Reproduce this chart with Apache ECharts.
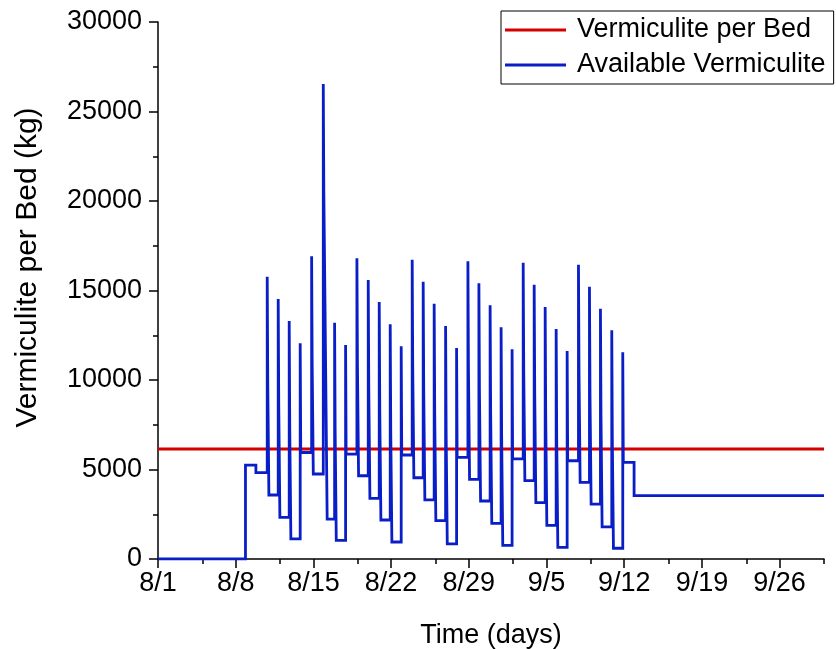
<!DOCTYPE html>
<html>
<head>
<meta charset="utf-8">
<script src="https://cdn.jsdelivr.net/npm/echarts@6/dist/echarts.min.js"></script>
<style>
html,body{margin:0;padding:0;background:#fff;}
#chart{width:836px;height:649px;}
</style>
</head>
<body>
<div id="chart"></div>
<script>
// ---- data (days counted from 8/1) ----
const xTickDays = [0, 7, 14, 21, 28, 35, 42, 49, 56];
const xTickLabels = ['8/1', '8/8', '8/15', '8/22', '8/29', '9/5', '9/12', '9/19', '9/26'];
const xMinorDays = [4, 11, 18, 25, 32, 39, 46, 53, 60];
const bedKg = 6150;          // vermiculite per bed
const bedLineDays = [0, 60];

// steps before the first delivery spike
const preDay = [0, 7.88, 8.82];
const preKg = [0, 5250, 4820];

// delivery spikes
const spikeDay = [9.84, 10.83, 11.82, 12.81, 13.84, 14.89, 15.91, 16.90, 17.92, 18.94,
  19.93, 20.92, 21.91, 22.90, 23.89, 24.88, 25.91, 26.90, 27.92, 28.91,
  29.92, 30.91, 31.90, 32.90, 33.89, 34.88, 35.87, 36.86, 37.88, 38.87,
  39.86, 40.88, 41.87];
const peakKg = [15770, 14525, 13296, 12050, 16910, 26540, 13200, 11955, 16800, 15590,
  14360, 13110, 11880, 16720, 15490, 14260, 13020, 11790, 16630, 15400,
  14170, 12940, 11715, 16550, 15320, 14080, 12850, 11620, 16440, 15210,
  13980, 12775, 11545];
const midKg = [[9700], [8490], [7260], [], [10850], [20500, 14450, 8350], [7150], [], [10750], [9450],
  [8300], [7050], [], [10650], [9400], [8150], [6950], [], [10550], [9300],
  [8100], [6850], [], [10450], [9250], [8000], [6750], [], [10350], [9150],
  [7900], [6700], []];
const lowKg = [3575, 2330, 1120, 5950, 4750, 2230, 1035, 5860, 4650, 3390,
  2180, 950, 5810, 4540, 3300, 2140, 840, 5680, 4450, 3240,
  1990, 765, 5590, 4375, 3150, 1880, 650, 5490, 4285, 3070,
  1800, 600, 5400];

// steps after the last spike
const postDay = [42.89];
const postKg = [3540];
const endDay = 60;

// ---- build step paths ----
const avail = [];
let cur = 0;
preDay.forEach((d, i) => {
  if (i === 0) { avail.push([d, preKg[i]]); }
  else { avail.push([d, cur]); avail.push([d, preKg[i]]); }
  cur = preKg[i];
});
spikeDay.forEach((t, i) => {
  avail.push([t, cur]);
  avail.push([t, peakKg[i]]);
  cur = peakKg[i];
  let tt = t + 0.05;
  midKg[i].forEach(m => {
    avail.push([tt, cur]);
    avail.push([tt, m]);
    cur = m;
    tt += 0.1;
  });
  avail.push([tt, cur]);
  avail.push([tt, lowKg[i]]);
  cur = lowKg[i];
});
postDay.forEach((d, i) => {
  avail.push([d, cur]);
  avail.push([d, postKg[i]]);
  cur = postKg[i];
});
avail.push([endDay, cur]);

const bedLine = bedLineDays.map(d => [d, bedKg]);

const FONT = "'Liberation Sans', Arial, sans-serif";
const chart = echarts.init(document.getElementById('chart'), null, {renderer: 'canvas'});
chart.setOption({
  animation: false,
  backgroundColor: '#fff',
  textStyle: {fontFamily: FONT, color: '#000'},
  grid: {left: 158, right: 12, top: 22, bottom: 90, containLabel: false, outerBoundsMode: 'none'},
  legend: {
    orient: 'vertical',
    left: 501, top: 11,
    padding: [4, 8, 4, 4],
    borderColor: '#000', borderWidth: 1, borderRadius: 0,
    backgroundColor: '#fff',
    itemWidth: 61, itemHeight: 3,
    itemGap: 5,
    icon: 'rect',
    textStyle: {fontFamily: FONT, fontSize: 27, color: '#000', lineHeight: 30, padding: [0, 0, 0, 6]},
    data: ['Vermiculite per Bed', 'Available Vermiculite']
  },
  xAxis: [{
    type: 'value', min: 0, max: 60,
    name: 'Time (days)', nameLocation: 'middle', nameGap: 63,
    nameTextStyle: {fontFamily: FONT, fontSize: 27, color: '#000'},
    axisLine: {show: true, onZero: false, lineStyle: {color: '#000', width: 1.5}},
    axisTick: {show: true, length: 9, lineStyle: {color: '#000', width: 1.5}, customValues: xTickDays},
    axisLabel: {
      fontFamily: FONT, fontSize: 27, color: '#000', margin: 11,
      customValues: xTickDays,
      formatter: v => { const k = xTickDays.indexOf(Math.round(v)); return k >= 0 ? xTickLabels[k] : ''; }
    },
    splitLine: {show: false}
  }, {
    type: 'value', min: 0, max: 60, position: 'bottom',
    axisLine: {show: false},
    axisTick: {show: true, length: 5, lineStyle: {color: '#000', width: 1.5}, customValues: xMinorDays},
    axisLabel: {show: false},
    splitLine: {show: false}
  }],
  yAxis: {
    type: 'value', min: 0, max: 30000, interval: 5000,
    name: 'Vermiculite per Bed (kg)', nameLocation: 'middle', nameGap: 115,
    nameTextStyle: {fontFamily: FONT, fontSize: 30, color: '#000', padding: [0, 0, 0, 46]},
    axisLine: {show: true, lineStyle: {color: '#000', width: 1.5}},
    axisTick: {show: true, length: 9, lineStyle: {color: '#000', width: 1.5}},
    minorTick: {show: true, splitNumber: 2, length: 5, lineStyle: {color: '#000', width: 1.5}},
    axisLabel: {fontFamily: FONT, fontSize: 27, color: '#000', margin: 16, formatter: v => String(v)},
    splitLine: {show: false}
  },
  series: [{
    name: 'Vermiculite per Bed', type: 'line', xAxisIndex: 0,
    data: bedLine, showSymbol: false, symbol: 'none',
    lineStyle: {color: '#d40000', width: 3}, itemStyle: {color: '#d40000'}
  }, {
    name: 'Available Vermiculite', type: 'line', xAxisIndex: 0,
    data: avail, showSymbol: false, symbol: 'none',
    lineStyle: {color: '#0a1ec8', width: 2.8, join: 'miter'}, itemStyle: {color: '#0a1ec8'}
  }]
});
</script>
</body>
</html>
